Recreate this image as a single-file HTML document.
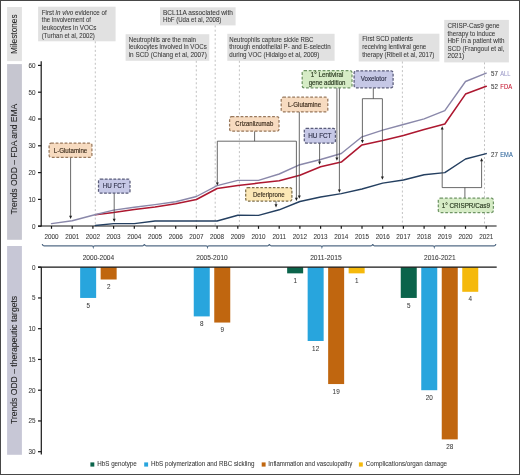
<!DOCTYPE html>
<html><head><meta charset="utf-8"><style>
html,body{margin:0;padding:0;background:#fff;}
svg{display:block;font-family:"Liberation Sans", sans-serif;filter:blur(0.35px);}
text{stroke-width:0.06px;paint-order:stroke;font-weight:400;}
</style></head><body>
<svg width="520" height="475" viewBox="0 0 520 475">
<rect width="520" height="475" fill="#fff"/>
<rect x="7.1" y="7" width="14.8" height="54.1" fill="#e2e2e2"/>
<rect x="7.1" y="64.1" width="14.8" height="175.7" fill="#c6c6d0"/>
<rect x="7.1" y="246" width="14.8" height="208.8" fill="#c7c7d6"/>
<text transform="translate(17.3,34.2) rotate(-90)" text-anchor="middle" font-size="8.9" fill="#1e1e1e" stroke="#1e1e1e" textLength="39.5" lengthAdjust="spacingAndGlyphs">Milestones</text>
<text transform="translate(17.3,159.2) rotate(-90)" text-anchor="middle" font-size="8.9" fill="#1e1e1e" stroke="#1e1e1e" textLength="110.8" lengthAdjust="spacingAndGlyphs">Trends ODD – FDA and EMA</text>
<text transform="translate(17.3,359.9) rotate(-90)" text-anchor="middle" font-size="8.9" fill="#1e1e1e" stroke="#1e1e1e" textLength="128.0" lengthAdjust="spacingAndGlyphs">Trends ODD – therapeutic targets</text>
<rect x="38.1" y="6.7" width="77.5" height="34.6" fill="#e1e1e1"/>
<text x="41.80" y="14.70" font-size="6.7" fill="#383838" stroke="#383838" textLength="64.90" lengthAdjust="spacingAndGlyphs">First <tspan font-style="italic">in vivo</tspan> evidence of</text>
<text x="41.80" y="22.30" font-size="6.7" fill="#383838" stroke="#383838" textLength="49.20" lengthAdjust="spacingAndGlyphs">the involvement of</text>
<text x="41.80" y="30.00" font-size="6.7" fill="#383838" stroke="#383838" textLength="54.60" lengthAdjust="spacingAndGlyphs">leukocytes in VOCs</text>
<text x="41.80" y="37.70" font-size="6.7" fill="#383838" stroke="#383838" textLength="53.00" lengthAdjust="spacingAndGlyphs">(Turhan et al, 2002)</text>
<rect x="125.6" y="34.2" width="83.7" height="26.6" fill="#e1e1e1"/>
<text x="128.70" y="41.50" font-size="6.7" fill="#383838" stroke="#383838" textLength="67.30" lengthAdjust="spacingAndGlyphs">Neutrophils are the main</text>
<text x="128.70" y="49.20" font-size="6.7" fill="#383838" stroke="#383838" textLength="78.10" lengthAdjust="spacingAndGlyphs">leukocytes involved in VOCs</text>
<text x="128.70" y="56.90" font-size="6.7" fill="#383838" stroke="#383838" textLength="78.10" lengthAdjust="spacingAndGlyphs">in SCD (Chiang et al, 2007)</text>
<rect x="160" y="7.3" width="75.6" height="18.1" fill="#e1e1e1"/>
<text x="163.00" y="14.50" font-size="6.7" fill="#383838" stroke="#383838" textLength="70.00" lengthAdjust="spacingAndGlyphs">BCL11A associated with</text>
<text x="163.00" y="22.20" font-size="6.7" fill="#383838" stroke="#383838" textLength="58.40" lengthAdjust="spacingAndGlyphs">HbF (Uda et al, 2008)</text>
<rect x="227.3" y="33.8" width="107.3" height="27.0" fill="#e1e1e1"/>
<text x="229.30" y="41.50" font-size="6.7" fill="#383838" stroke="#383838" textLength="84.10" lengthAdjust="spacingAndGlyphs">Neutrophils capture sickle RBC</text>
<text x="229.30" y="49.20" font-size="6.7" fill="#383838" stroke="#383838" textLength="101.30" lengthAdjust="spacingAndGlyphs">through endothelial P- and E-selectin</text>
<text x="229.30" y="56.90" font-size="6.7" fill="#383838" stroke="#383838" textLength="90.10" lengthAdjust="spacingAndGlyphs">during VOC (Hidalgo et al, 2009)</text>
<rect x="358.7" y="33.7" width="80.7" height="27.8" fill="#e1e1e1"/>
<text x="362.20" y="41.30" font-size="6.7" fill="#383838" stroke="#383838" textLength="50.80" lengthAdjust="spacingAndGlyphs">First SCD patients</text>
<text x="362.20" y="49.00" font-size="6.7" fill="#383838" stroke="#383838" textLength="64.10" lengthAdjust="spacingAndGlyphs">receiving lentiviral gene</text>
<text x="362.20" y="56.70" font-size="6.7" fill="#383838" stroke="#383838" textLength="72.20" lengthAdjust="spacingAndGlyphs">therapy (Ribeil et al, 2017)</text>
<rect x="444.2" y="19.9" width="64.7" height="42.5" fill="#e1e1e1"/>
<text x="447.50" y="27.80" font-size="6.7" fill="#383838" stroke="#383838" textLength="52.10" lengthAdjust="spacingAndGlyphs">CRISP-Cas9 gene</text>
<text x="447.50" y="35.60" font-size="6.7" fill="#383838" stroke="#383838" textLength="47.70" lengthAdjust="spacingAndGlyphs">therapy to induce</text>
<text x="447.50" y="43.10" font-size="6.7" fill="#383838" stroke="#383838" textLength="56.90" lengthAdjust="spacingAndGlyphs">HbF in a patient with</text>
<text x="447.50" y="50.70" font-size="6.7" fill="#383838" stroke="#383838" textLength="56.90" lengthAdjust="spacingAndGlyphs">SCD (Frangoul et al,</text>
<text x="447.50" y="58.30" font-size="6.7" fill="#383838" stroke="#383838" textLength="16.80" lengthAdjust="spacingAndGlyphs">2021)</text>
<line x1="95.3" y1="41.3" x2="95.3" y2="225.5" stroke="#b2b2b2" stroke-width="0.8" stroke-dasharray="2,2.3"/>
<line x1="196.3" y1="60.8" x2="196.3" y2="225.5" stroke="#b2b2b2" stroke-width="0.8" stroke-dasharray="2,2.3"/>
<line x1="215.2" y1="25.4" x2="215.2" y2="225.5" stroke="#b2b2b2" stroke-width="0.8" stroke-dasharray="2,2.3"/>
<line x1="239.4" y1="60.8" x2="239.4" y2="225.5" stroke="#b2b2b2" stroke-width="0.8" stroke-dasharray="2,2.3"/>
<line x1="402.4" y1="61.5" x2="402.4" y2="225.5" stroke="#b2b2b2" stroke-width="0.8" stroke-dasharray="2,2.3"/>
<line x1="484.5" y1="62.4" x2="484.5" y2="225.5" stroke="#b2b2b2" stroke-width="0.8" stroke-dasharray="2,2.3"/>
<g stroke="#161616" stroke-width="1.2" fill="none">
<line x1="41.2" y1="61.3" x2="41.2" y2="226.6"/>
<line x1="38" y1="226" x2="496.6" y2="226"/>
<line x1="38" y1="226.20" x2="41.2" y2="226.20"/>
<line x1="38" y1="199.40" x2="41.2" y2="199.40"/>
<line x1="38" y1="172.60" x2="41.2" y2="172.60"/>
<line x1="38" y1="145.80" x2="41.2" y2="145.80"/>
<line x1="38" y1="119.00" x2="41.2" y2="119.00"/>
<line x1="38" y1="92.20" x2="41.2" y2="92.20"/>
<line x1="38" y1="65.40" x2="41.2" y2="65.40"/>
<line x1="51.50" y1="226" x2="51.50" y2="228.8"/>
<line x1="72.20" y1="226" x2="72.20" y2="228.8"/>
<line x1="92.90" y1="226" x2="92.90" y2="228.8"/>
<line x1="113.60" y1="226" x2="113.60" y2="228.8"/>
<line x1="134.30" y1="226" x2="134.30" y2="228.8"/>
<line x1="155.00" y1="226" x2="155.00" y2="228.8"/>
<line x1="175.70" y1="226" x2="175.70" y2="228.8"/>
<line x1="196.40" y1="226" x2="196.40" y2="228.8"/>
<line x1="217.10" y1="226" x2="217.10" y2="228.8"/>
<line x1="237.80" y1="226" x2="237.80" y2="228.8"/>
<line x1="258.50" y1="226" x2="258.50" y2="228.8"/>
<line x1="279.20" y1="226" x2="279.20" y2="228.8"/>
<line x1="299.90" y1="226" x2="299.90" y2="228.8"/>
<line x1="320.60" y1="226" x2="320.60" y2="228.8"/>
<line x1="341.30" y1="226" x2="341.30" y2="228.8"/>
<line x1="362.00" y1="226" x2="362.00" y2="228.8"/>
<line x1="382.70" y1="226" x2="382.70" y2="228.8"/>
<line x1="403.40" y1="226" x2="403.40" y2="228.8"/>
<line x1="424.10" y1="226" x2="424.10" y2="228.8"/>
<line x1="444.80" y1="226" x2="444.80" y2="228.8"/>
<line x1="465.50" y1="226" x2="465.50" y2="228.8"/>
<line x1="486.20" y1="226" x2="486.20" y2="228.8"/>
</g>
<text x="35.60" y="228.50" font-size="6.7" fill="#383838" stroke="#383838" text-anchor="end" textLength="3.53" lengthAdjust="spacingAndGlyphs">0</text>
<text x="35.60" y="201.70" font-size="6.7" fill="#383838" stroke="#383838" text-anchor="end" textLength="7.06" lengthAdjust="spacingAndGlyphs">10</text>
<text x="35.60" y="174.90" font-size="6.7" fill="#383838" stroke="#383838" text-anchor="end" textLength="7.06" lengthAdjust="spacingAndGlyphs">20</text>
<text x="35.60" y="148.10" font-size="6.7" fill="#383838" stroke="#383838" text-anchor="end" textLength="7.06" lengthAdjust="spacingAndGlyphs">30</text>
<text x="35.60" y="121.30" font-size="6.7" fill="#383838" stroke="#383838" text-anchor="end" textLength="7.06" lengthAdjust="spacingAndGlyphs">40</text>
<text x="35.60" y="94.50" font-size="6.7" fill="#383838" stroke="#383838" text-anchor="end" textLength="7.06" lengthAdjust="spacingAndGlyphs">50</text>
<text x="35.60" y="67.70" font-size="6.7" fill="#383838" stroke="#383838" text-anchor="end" textLength="7.06" lengthAdjust="spacingAndGlyphs">60</text>
<text x="51.50" y="238.80" font-size="6.7" fill="#383838" stroke="#383838" text-anchor="middle" textLength="14.12" lengthAdjust="spacingAndGlyphs">2000</text>
<text x="72.20" y="238.80" font-size="6.7" fill="#383838" stroke="#383838" text-anchor="middle" textLength="14.12" lengthAdjust="spacingAndGlyphs">2001</text>
<text x="92.90" y="238.80" font-size="6.7" fill="#383838" stroke="#383838" text-anchor="middle" textLength="14.12" lengthAdjust="spacingAndGlyphs">2002</text>
<text x="113.60" y="238.80" font-size="6.7" fill="#383838" stroke="#383838" text-anchor="middle" textLength="14.12" lengthAdjust="spacingAndGlyphs">2003</text>
<text x="134.30" y="238.80" font-size="6.7" fill="#383838" stroke="#383838" text-anchor="middle" textLength="14.12" lengthAdjust="spacingAndGlyphs">2004</text>
<text x="155.00" y="238.80" font-size="6.7" fill="#383838" stroke="#383838" text-anchor="middle" textLength="14.12" lengthAdjust="spacingAndGlyphs">2005</text>
<text x="175.70" y="238.80" font-size="6.7" fill="#383838" stroke="#383838" text-anchor="middle" textLength="14.12" lengthAdjust="spacingAndGlyphs">2006</text>
<text x="196.40" y="238.80" font-size="6.7" fill="#383838" stroke="#383838" text-anchor="middle" textLength="14.12" lengthAdjust="spacingAndGlyphs">2007</text>
<text x="217.10" y="238.80" font-size="6.7" fill="#383838" stroke="#383838" text-anchor="middle" textLength="14.12" lengthAdjust="spacingAndGlyphs">2008</text>
<text x="237.80" y="238.80" font-size="6.7" fill="#383838" stroke="#383838" text-anchor="middle" textLength="14.12" lengthAdjust="spacingAndGlyphs">2009</text>
<text x="258.50" y="238.80" font-size="6.7" fill="#383838" stroke="#383838" text-anchor="middle" textLength="14.12" lengthAdjust="spacingAndGlyphs">2010</text>
<text x="279.20" y="238.80" font-size="6.7" fill="#383838" stroke="#383838" text-anchor="middle" textLength="13.65" lengthAdjust="spacingAndGlyphs">2011</text>
<text x="299.90" y="238.80" font-size="6.7" fill="#383838" stroke="#383838" text-anchor="middle" textLength="14.12" lengthAdjust="spacingAndGlyphs">2012</text>
<text x="320.60" y="238.80" font-size="6.7" fill="#383838" stroke="#383838" text-anchor="middle" textLength="14.12" lengthAdjust="spacingAndGlyphs">2013</text>
<text x="341.30" y="238.80" font-size="6.7" fill="#383838" stroke="#383838" text-anchor="middle" textLength="14.12" lengthAdjust="spacingAndGlyphs">2014</text>
<text x="362.00" y="238.80" font-size="6.7" fill="#383838" stroke="#383838" text-anchor="middle" textLength="14.12" lengthAdjust="spacingAndGlyphs">2015</text>
<text x="382.70" y="238.80" font-size="6.7" fill="#383838" stroke="#383838" text-anchor="middle" textLength="14.12" lengthAdjust="spacingAndGlyphs">2016</text>
<text x="403.40" y="238.80" font-size="6.7" fill="#383838" stroke="#383838" text-anchor="middle" textLength="14.12" lengthAdjust="spacingAndGlyphs">2017</text>
<text x="424.10" y="238.80" font-size="6.7" fill="#383838" stroke="#383838" text-anchor="middle" textLength="14.12" lengthAdjust="spacingAndGlyphs">2018</text>
<text x="444.80" y="238.80" font-size="6.7" fill="#383838" stroke="#383838" text-anchor="middle" textLength="14.12" lengthAdjust="spacingAndGlyphs">2019</text>
<text x="465.50" y="238.80" font-size="6.7" fill="#383838" stroke="#383838" text-anchor="middle" textLength="14.12" lengthAdjust="spacingAndGlyphs">2020</text>
<text x="486.20" y="238.80" font-size="6.7" fill="#383838" stroke="#383838" text-anchor="middle" textLength="14.12" lengthAdjust="spacingAndGlyphs">2021</text>
<polyline points="95.3,225.5 113.6,223.6 134.3,223.6 155.0,221 175.7,221 196.4,221 217.1,221 237.8,215.3 258.5,215.4 279.2,209.8 299.9,201.5 320.6,197 341.3,193.6 362.0,189 382.7,183.1 403.4,180 424.1,174.8 444.8,172.6 465.5,159 486.2,153.6" fill="none" stroke="#243f60" stroke-width="1.45" stroke-linejoin="round" stroke-linecap="round"/>
<polyline points="95.3,214.8 113.6,212.5 134.3,209.5 155.0,207 175.7,203.7 196.4,199.5 217.1,188.5 237.8,185.6 258.5,183.1 279.2,180.7 299.9,175.3 320.6,166.8 341.3,162.1 362.0,144.9 382.7,140.5 403.4,135.5 424.1,129.4 444.8,124 465.5,94.1 486.2,86.3" fill="none" stroke="#ad1830" stroke-width="1.55" stroke-linejoin="round" stroke-linecap="round"/>
<polyline points="51.5,223.6 72.2,220.8 92.9,215.2 113.6,210.1 134.3,207.2 155.0,204.6 175.7,201.7 196.4,196.5 217.1,185.6 237.8,180.4 258.5,180.4 279.2,174 299.9,164.7 320.6,159.5 341.3,153.5 362.0,136.8 382.7,130.2 403.4,124.5 424.1,118.8 444.8,110.7 465.5,81.5 486.2,73.1" fill="none" stroke="#8a88aa" stroke-width="1.4" stroke-linejoin="round" stroke-linecap="round"/>
<text x="491.00" y="75.80" font-size="6.7" fill="#383838" stroke="#383838" textLength="6.90" lengthAdjust="spacingAndGlyphs">57</text>
<text x="500.30" y="75.80" font-size="6.7" fill="#9a98c6" stroke="#9a98c6" textLength="10.20" lengthAdjust="spacingAndGlyphs">ALL</text>
<text x="491.00" y="89.20" font-size="6.7" fill="#383838" stroke="#383838" textLength="6.90" lengthAdjust="spacingAndGlyphs">52</text>
<text x="500.30" y="89.20" font-size="6.7" fill="#c4142e" stroke="#c4142e" textLength="11.80" lengthAdjust="spacingAndGlyphs">FDA</text>
<text x="491.00" y="156.80" font-size="6.7" fill="#383838" stroke="#383838" textLength="6.90" lengthAdjust="spacingAndGlyphs">27</text>
<text x="500.30" y="156.80" font-size="6.7" fill="#1f5a94" stroke="#1f5a94" textLength="12.40" lengthAdjust="spacingAndGlyphs">EMA</text>
<line x1="70.6" y1="157.4" x2="70.6" y2="216.4" stroke="#444" stroke-width="0.8"/>
<path d="M69.1,215.8 L72.1,215.8 L70.6,219 Z" fill="#222"/>
<rect x="49.1" y="143.1" width="42.8" height="14.3" rx="2" fill="#f7dbc0" stroke="#98785c" stroke-width="1.25" stroke-dasharray="2.8,1.7"/>
<text x="70.50" y="152.90" font-size="6.7" fill="#3a2a1a" stroke="#3a2a1a" text-anchor="middle" style="stroke-width:0.15px" textLength="33.50" lengthAdjust="spacingAndGlyphs">L-Glutamine</text>
<line x1="114.2" y1="193.2" x2="114.2" y2="219.3" stroke="#444" stroke-width="0.8"/>
<path d="M112.7,218.70000000000002 L115.7,218.70000000000002 L114.2,221.9 Z" fill="#222"/>
<rect x="98.5" y="179" width="31.5" height="14.2" rx="2" fill="#c6c8e6" stroke="#5a5c7a" stroke-width="1.25" stroke-dasharray="2.8,1.5"/>
<text x="114.25" y="188.30" font-size="6.7" fill="#30324a" stroke="#30324a" text-anchor="middle" style="stroke-width:0.15px" textLength="22.80" lengthAdjust="spacingAndGlyphs">HU FCT</text>
<line x1="254.6" y1="131.2" x2="254.6" y2="141.2" stroke="#444" stroke-width="0.8"/>
<line x1="217.3" y1="141.2" x2="296.4" y2="141.2" stroke="#444" stroke-width="0.8"/>
<line x1="217.3" y1="141.2" x2="217.3" y2="183.0" stroke="#444" stroke-width="0.8"/>
<path d="M215.8,182.4 L218.8,182.4 L217.3,185.6 Z" fill="#222"/>
<line x1="296.4" y1="141.2" x2="296.4" y2="198.4" stroke="#444" stroke-width="0.8"/>
<path d="M294.9,197.8 L297.9,197.8 L296.4,201 Z" fill="#222"/>
<rect x="229.6" y="116.7" width="49.4" height="14.5" rx="2" fill="#f7dbc0" stroke="#98785c" stroke-width="1.25" stroke-dasharray="2.8,1.7"/>
<text x="254.30" y="126.40" font-size="6.7" fill="#3a2a1a" stroke="#3a2a1a" text-anchor="middle" style="stroke-width:0.15px" textLength="37.90" lengthAdjust="spacingAndGlyphs">Crizanlizumab</text>
<line x1="276" y1="201.1" x2="276" y2="204.8" stroke="#444" stroke-width="0.8"/>
<path d="M274.5,204.20000000000002 L277.5,204.20000000000002 L276,207.4 Z" fill="#222"/>
<rect x="245.7" y="187.7" width="46.2" height="13.4" rx="2" fill="#fce8b6" stroke="#7e6e4a" stroke-width="1.25" stroke-dasharray="2.6,1.6"/>
<text x="268.80" y="197.00" font-size="6.7" fill="#3a3020" stroke="#3a3020" text-anchor="middle" style="stroke-width:0.15px" textLength="31.80" lengthAdjust="spacingAndGlyphs">Deferiprone</text>
<line x1="299.3" y1="111.9" x2="299.3" y2="196.20000000000002" stroke="#444" stroke-width="0.8"/>
<path d="M297.8,195.60000000000002 L300.8,195.60000000000002 L299.3,198.8 Z" fill="#222"/>
<rect x="281.2" y="97.2" width="46.6" height="14.7" rx="2" fill="#f7dbc0" stroke="#98785c" stroke-width="1.25" stroke-dasharray="2.8,1.7"/>
<text x="304.50" y="107.20" font-size="6.7" fill="#3a2a1a" stroke="#3a2a1a" text-anchor="middle" style="stroke-width:0.15px" textLength="33.10" lengthAdjust="spacingAndGlyphs">L-Glutamine</text>
<line x1="319.6" y1="143" x2="319.6" y2="162.1" stroke="#444" stroke-width="0.8"/>
<path d="M318.1,161.5 L321.1,161.5 L319.6,164.7 Z" fill="#222"/>
<rect x="304.3" y="128.4" width="31.1" height="14.6" rx="2" fill="#c6c8e6" stroke="#5a5c7a" stroke-width="1.25" stroke-dasharray="2.8,1.5"/>
<text x="319.85" y="137.60" font-size="6.7" fill="#30324a" stroke="#30324a" text-anchor="middle" style="stroke-width:0.15px" textLength="23.30" lengthAdjust="spacingAndGlyphs">HU FCT</text>
<line x1="336.9" y1="87.8" x2="336.9" y2="158.20000000000002" stroke="#444" stroke-width="0.8"/>
<path d="M335.4,157.60000000000002 L338.4,157.60000000000002 L336.9,160.8 Z" fill="#222"/>
<line x1="339.4" y1="87.8" x2="339.4" y2="190.20000000000002" stroke="#444" stroke-width="0.8"/>
<path d="M337.9,189.60000000000002 L340.9,189.60000000000002 L339.4,192.8 Z" fill="#222"/>
<rect x="302.2" y="70.6" width="49.8" height="17.2" rx="2" fill="#d6ecc6" stroke="#6e9464" stroke-width="1.25" stroke-dasharray="2.8,1.8"/>
<text x="327.10" y="77.40" font-size="6.7" fill="#28381f" stroke="#28381f" text-anchor="middle" style="stroke-width:0.15px" textLength="32.70" lengthAdjust="spacingAndGlyphs">1° Lentiviral</text>
<text x="327.10" y="85.00" font-size="6.7" fill="#28381f" stroke="#28381f" text-anchor="middle" style="stroke-width:0.15px" textLength="36.90" lengthAdjust="spacingAndGlyphs">gene addition</text>
<line x1="373.3" y1="87.8" x2="373.3" y2="98.7" stroke="#444" stroke-width="0.8"/>
<line x1="362.4" y1="98.7" x2="382.4" y2="98.7" stroke="#444" stroke-width="0.8"/>
<line x1="362.4" y1="98.7" x2="362.4" y2="140.6" stroke="#444" stroke-width="0.8"/>
<path d="M360.9,140.0 L363.9,140.0 L362.4,143.2 Z" fill="#222"/>
<line x1="382.4" y1="98.7" x2="382.4" y2="177.20000000000002" stroke="#444" stroke-width="0.8"/>
<path d="M380.9,176.60000000000002 L383.9,176.60000000000002 L382.4,179.8 Z" fill="#222"/>
<rect x="354.1" y="70.8" width="39.0" height="17.0" rx="2" fill="#c6c8e6" stroke="#5a5c7a" stroke-width="1.25" stroke-dasharray="2.8,1.5"/>
<text x="373.60" y="81.40" font-size="6.7" fill="#30324a" stroke="#30324a" text-anchor="middle" style="stroke-width:0.15px" textLength="25.80" lengthAdjust="spacingAndGlyphs">Voxelotor</text>
<line x1="464.9" y1="198.2" x2="464.9" y2="187.6" stroke="#444" stroke-width="0.8"/>
<line x1="442.2" y1="187.6" x2="481.6" y2="187.6" stroke="#444" stroke-width="0.8"/>
<line x1="442.2" y1="187.6" x2="442.2" y2="128.8" stroke="#444" stroke-width="0.8"/>
<path d="M440.7,129.4 L443.7,129.4 L442.2,126.2 Z" fill="#222"/>
<line x1="481.6" y1="187.6" x2="481.6" y2="160.7" stroke="#444" stroke-width="0.8"/>
<path d="M480.1,161.29999999999998 L483.1,161.29999999999998 L481.6,158.1 Z" fill="#222"/>
<rect x="438.3" y="198.2" width="55.1" height="14.3" rx="2" fill="#d6ecc6" stroke="#6e9464" stroke-width="1.25" stroke-dasharray="2.8,1.8"/>
<text x="465.85" y="208.00" font-size="6.7" fill="#28381f" stroke="#28381f" text-anchor="middle" style="stroke-width:0.15px" textLength="48.40" lengthAdjust="spacingAndGlyphs">1° CRISPR/Cas9</text>
<path d="M42.3,244.0 Q42.5,245.8 44.099999999999994,245.8 L92.1,245.8 Q93.0,245.8 93.3,246.9 Q93.6,245.8 94.5,245.8 L142.6,245.8 Q144.20000000000002,245.8 144.4,244.0" fill="none" stroke="#546c86" stroke-width="1.3"/>
<path d="M144.4,244.0 Q144.6,245.8 146.20000000000002,245.8 L206.3,245.8 Q207.2,245.8 207.5,246.9 Q207.8,245.8 208.7,245.8 L267.59999999999997,245.8 Q269.2,245.8 269.4,244.0" fill="none" stroke="#546c86" stroke-width="1.3"/>
<path d="M269.4,244.0 Q269.59999999999997,245.8 271.2,245.8 L320.7,245.8 Q321.59999999999997,245.8 321.9,246.9 Q322.2,245.8 323.09999999999997,245.8 L370.9,245.8 Q372.5,245.8 372.7,244.0" fill="none" stroke="#546c86" stroke-width="1.3"/>
<path d="M372.7,244.0 Q372.9,245.8 374.5,245.8 L433.1,245.8 Q434.0,245.8 434.3,246.9 Q434.6,245.8 435.5,245.8 L494.0,245.8 Q495.6,245.8 495.8,244.0" fill="none" stroke="#546c86" stroke-width="1.3"/>
<text x="98.40" y="259.90" font-size="6.7" fill="#383838" stroke="#383838" text-anchor="middle" textLength="31.50" lengthAdjust="spacingAndGlyphs">2000-2004</text>
<text x="212.00" y="259.90" font-size="6.7" fill="#383838" stroke="#383838" text-anchor="middle" textLength="31.50" lengthAdjust="spacingAndGlyphs">2005-2010</text>
<text x="325.90" y="259.90" font-size="6.7" fill="#383838" stroke="#383838" text-anchor="middle" textLength="31.50" lengthAdjust="spacingAndGlyphs">2011-2015</text>
<text x="439.80" y="259.90" font-size="6.7" fill="#383838" stroke="#383838" text-anchor="middle" textLength="31.50" lengthAdjust="spacingAndGlyphs">2016-2021</text>
<rect x="80.15" y="267.2" width="16" height="30.75" fill="#28a5dd"/>
<text x="88.15" y="307.55" font-size="6.7" fill="#383838" stroke="#383838" text-anchor="middle" textLength="3.53" lengthAdjust="spacingAndGlyphs">5</text>
<rect x="100.65" y="267.2" width="16" height="12.30" fill="#c0660f"/>
<text x="108.65" y="289.10" font-size="6.7" fill="#383838" stroke="#383838" text-anchor="middle" textLength="3.53" lengthAdjust="spacingAndGlyphs">2</text>
<rect x="193.75" y="267.2" width="16" height="49.20" fill="#28a5dd"/>
<text x="201.75" y="326.00" font-size="6.7" fill="#383838" stroke="#383838" text-anchor="middle" textLength="3.53" lengthAdjust="spacingAndGlyphs">8</text>
<rect x="214.25" y="267.2" width="16" height="55.35" fill="#c0660f"/>
<text x="222.25" y="332.15" font-size="6.7" fill="#383838" stroke="#383838" text-anchor="middle" textLength="3.53" lengthAdjust="spacingAndGlyphs">9</text>
<rect x="287.15" y="267.2" width="16" height="6.15" fill="#0b644b"/>
<text x="295.15" y="282.95" font-size="6.7" fill="#383838" stroke="#383838" text-anchor="middle" textLength="3.53" lengthAdjust="spacingAndGlyphs">1</text>
<rect x="307.65" y="267.2" width="16" height="73.80" fill="#28a5dd"/>
<text x="315.65" y="350.60" font-size="6.7" fill="#383838" stroke="#383838" text-anchor="middle" textLength="7.06" lengthAdjust="spacingAndGlyphs">12</text>
<rect x="328.15" y="267.2" width="16" height="116.85" fill="#c0660f"/>
<text x="336.15" y="393.65" font-size="6.7" fill="#383838" stroke="#383838" text-anchor="middle" textLength="7.06" lengthAdjust="spacingAndGlyphs">19</text>
<rect x="348.65" y="267.2" width="16" height="6.15" fill="#f5b90c"/>
<text x="356.65" y="282.95" font-size="6.7" fill="#383838" stroke="#383838" text-anchor="middle" textLength="3.53" lengthAdjust="spacingAndGlyphs">1</text>
<rect x="400.75" y="267.2" width="16" height="30.75" fill="#0b644b"/>
<text x="408.75" y="307.55" font-size="6.7" fill="#383838" stroke="#383838" text-anchor="middle" textLength="3.53" lengthAdjust="spacingAndGlyphs">5</text>
<rect x="421.25" y="267.2" width="16" height="123.00" fill="#28a5dd"/>
<text x="429.25" y="399.80" font-size="6.7" fill="#383838" stroke="#383838" text-anchor="middle" textLength="7.06" lengthAdjust="spacingAndGlyphs">20</text>
<rect x="441.75" y="267.2" width="16" height="172.20" fill="#c0660f"/>
<text x="449.75" y="449.00" font-size="6.7" fill="#383838" stroke="#383838" text-anchor="middle" textLength="7.06" lengthAdjust="spacingAndGlyphs">28</text>
<rect x="462.25" y="267.2" width="16" height="24.60" fill="#f5b90c"/>
<text x="470.25" y="301.40" font-size="6.7" fill="#383838" stroke="#383838" text-anchor="middle" textLength="3.53" lengthAdjust="spacingAndGlyphs">4</text>
<g stroke="#161616" stroke-width="1.2" fill="none">
<line x1="38" y1="267.2" x2="496.7" y2="267.2"/>
<line x1="41.3" y1="267.2" x2="41.3" y2="454.5"/>
<line x1="38" y1="267.20" x2="41.3" y2="267.20"/>
<line x1="38" y1="297.95" x2="41.3" y2="297.95"/>
<line x1="38" y1="328.70" x2="41.3" y2="328.70"/>
<line x1="38" y1="359.45" x2="41.3" y2="359.45"/>
<line x1="38" y1="390.20" x2="41.3" y2="390.20"/>
<line x1="38" y1="420.95" x2="41.3" y2="420.95"/>
<line x1="38" y1="451.70" x2="41.3" y2="451.70"/>
</g>
<text x="35.60" y="269.50" font-size="6.7" fill="#383838" stroke="#383838" text-anchor="end" textLength="3.53" lengthAdjust="spacingAndGlyphs">0</text>
<text x="35.60" y="300.25" font-size="6.7" fill="#383838" stroke="#383838" text-anchor="end" textLength="3.53" lengthAdjust="spacingAndGlyphs">5</text>
<text x="35.60" y="331.00" font-size="6.7" fill="#383838" stroke="#383838" text-anchor="end" textLength="7.06" lengthAdjust="spacingAndGlyphs">10</text>
<text x="35.60" y="361.75" font-size="6.7" fill="#383838" stroke="#383838" text-anchor="end" textLength="7.06" lengthAdjust="spacingAndGlyphs">15</text>
<text x="35.60" y="392.50" font-size="6.7" fill="#383838" stroke="#383838" text-anchor="end" textLength="7.06" lengthAdjust="spacingAndGlyphs">20</text>
<text x="35.60" y="423.25" font-size="6.7" fill="#383838" stroke="#383838" text-anchor="end" textLength="7.06" lengthAdjust="spacingAndGlyphs">25</text>
<text x="35.60" y="454.00" font-size="6.7" fill="#383838" stroke="#383838" text-anchor="end" textLength="7.06" lengthAdjust="spacingAndGlyphs">30</text>
<rect x="90.4" y="462.4" width="3.9" height="4.2" fill="#0b644b"/>
<text x="97.30" y="466.20" font-size="6.3" fill="#383838" stroke="#383838" textLength="39.50" lengthAdjust="spacingAndGlyphs">HbS genotype</text>
<rect x="144.2" y="462.4" width="3.9" height="4.2" fill="#28a5dd"/>
<text x="151.10" y="466.20" font-size="6.3" fill="#383838" stroke="#383838" textLength="103.30" lengthAdjust="spacingAndGlyphs">HbS polymerization and RBC sickling</text>
<rect x="261.7" y="462.4" width="3.9" height="4.2" fill="#c0660f"/>
<text x="268.30" y="466.20" font-size="6.3" fill="#383838" stroke="#383838" textLength="84.00" lengthAdjust="spacingAndGlyphs">Inflammation and vasculopathy</text>
<rect x="358.9" y="462.4" width="3.9" height="4.2" fill="#f5b90c"/>
<text x="365.80" y="466.20" font-size="6.3" fill="#383838" stroke="#383838" textLength="81.30" lengthAdjust="spacingAndGlyphs">Complications/organ damage</text>
<rect x="0.5" y="0.5" width="519" height="474" fill="none" stroke="#474747" stroke-width="1"/>
</svg>
</body></html>
